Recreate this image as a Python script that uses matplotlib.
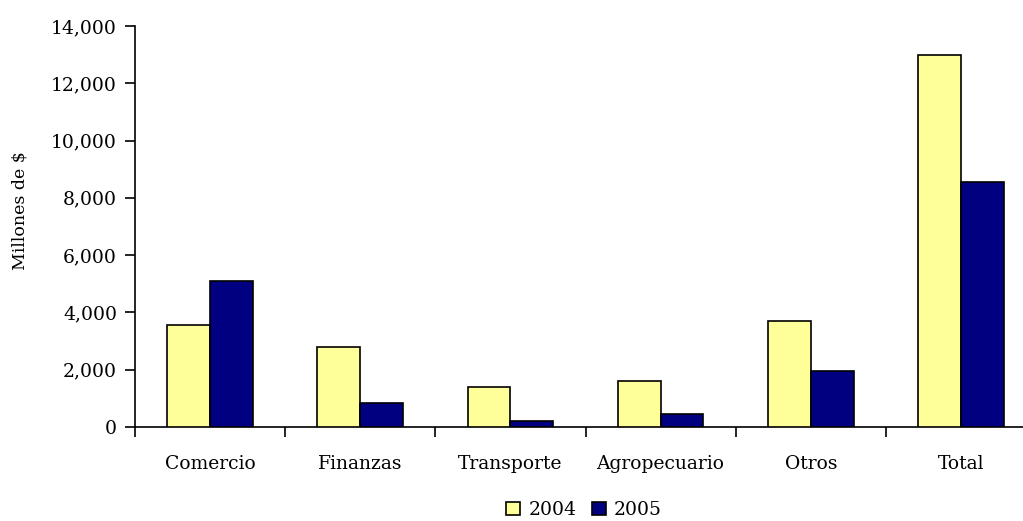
import matplotlib
matplotlib.use("Agg")
import matplotlib.pyplot as plt
import numpy as np
from matplotlib.ticker import FuncFormatter, FixedLocator

categories = ["Comercio", "Finanzas", "Transporte", "Agropecuario", "Otros", "Total"]
series_names = ["2004", "2005"]
values_2004 = [3550, 2800, 1400, 1600, 3700, 13000]
values_2005 = [5100, 850, 200, 470, 1950, 8570]
yticks = [0, 2000, 4000, 6000, 8000, 10000, 12000, 14000]

colors = ["#FFFF99", "#000080"]

plt.rcParams['font.family'] = ['DejaVu Serif']
W, H = 1023, 521
fig = plt.figure(figsize=(W / 100, H / 100), dpi=100)
left = 135 / W
bottom = (H - 427) / H
width = 901 / W
height = 401 / H
ax = fig.add_axes([left, bottom, width, height])

x = np.arange(len(categories))
bw = 1 / 3.5
ax.bar(x - bw / 2, values_2004, width=bw, color=colors[0], edgecolor="black", linewidth=1.2, label=series_names[0], zorder=3)
ax.bar(x + bw / 2, values_2005, width=bw, color=colors[1], edgecolor="black", linewidth=1.2, label=series_names[1], zorder=3)

ax.set_xlim(-0.5, len(categories) - 0.5)
ax.set_ylim(0, 14000)
ax.set_yticks(yticks)
ax.yaxis.set_major_formatter(FuncFormatter(lambda v, p: f"{int(v):,}"))

ax.xaxis.set_major_locator(FixedLocator(np.arange(len(categories) + 1) - 0.5))
ax.xaxis.set_major_formatter(FuncFormatter(lambda v, p: ""))
ax.xaxis.set_minor_locator(FixedLocator(x))
ax.set_xticklabels(categories, minor=True)
ax.tick_params(axis="x", which="minor", length=0, pad=20, labelsize=13.5)
ax.tick_params(axis="x", which="major", length=7, width=1.2, direction="out")
ax.tick_params(axis="y", length=7, width=1.2, direction="out", pad=6, labelsize=13.5)

for s in ["top", "right"]:
    ax.spines[s].set_visible(False)
for s in ["left", "bottom"]:
    ax.spines[s].set_linewidth(1.2)

ax.set_ylabel("Millones de $", fontsize=12.5)
ax.yaxis.set_label_coords(-0.118, 0.54)

handles, labels = ax.get_legend_handles_labels()
fig.legend(handles, labels, loc="center", bbox_to_anchor=(584 / W, (H - 510) / H),
           ncol=2, frameon=False, fontsize=13.5, handlelength=0.75, handleheight=0.75,
           handletextpad=0.45, columnspacing=0.8, borderpad=0)

fig.savefig("out.png", dpi=100)
